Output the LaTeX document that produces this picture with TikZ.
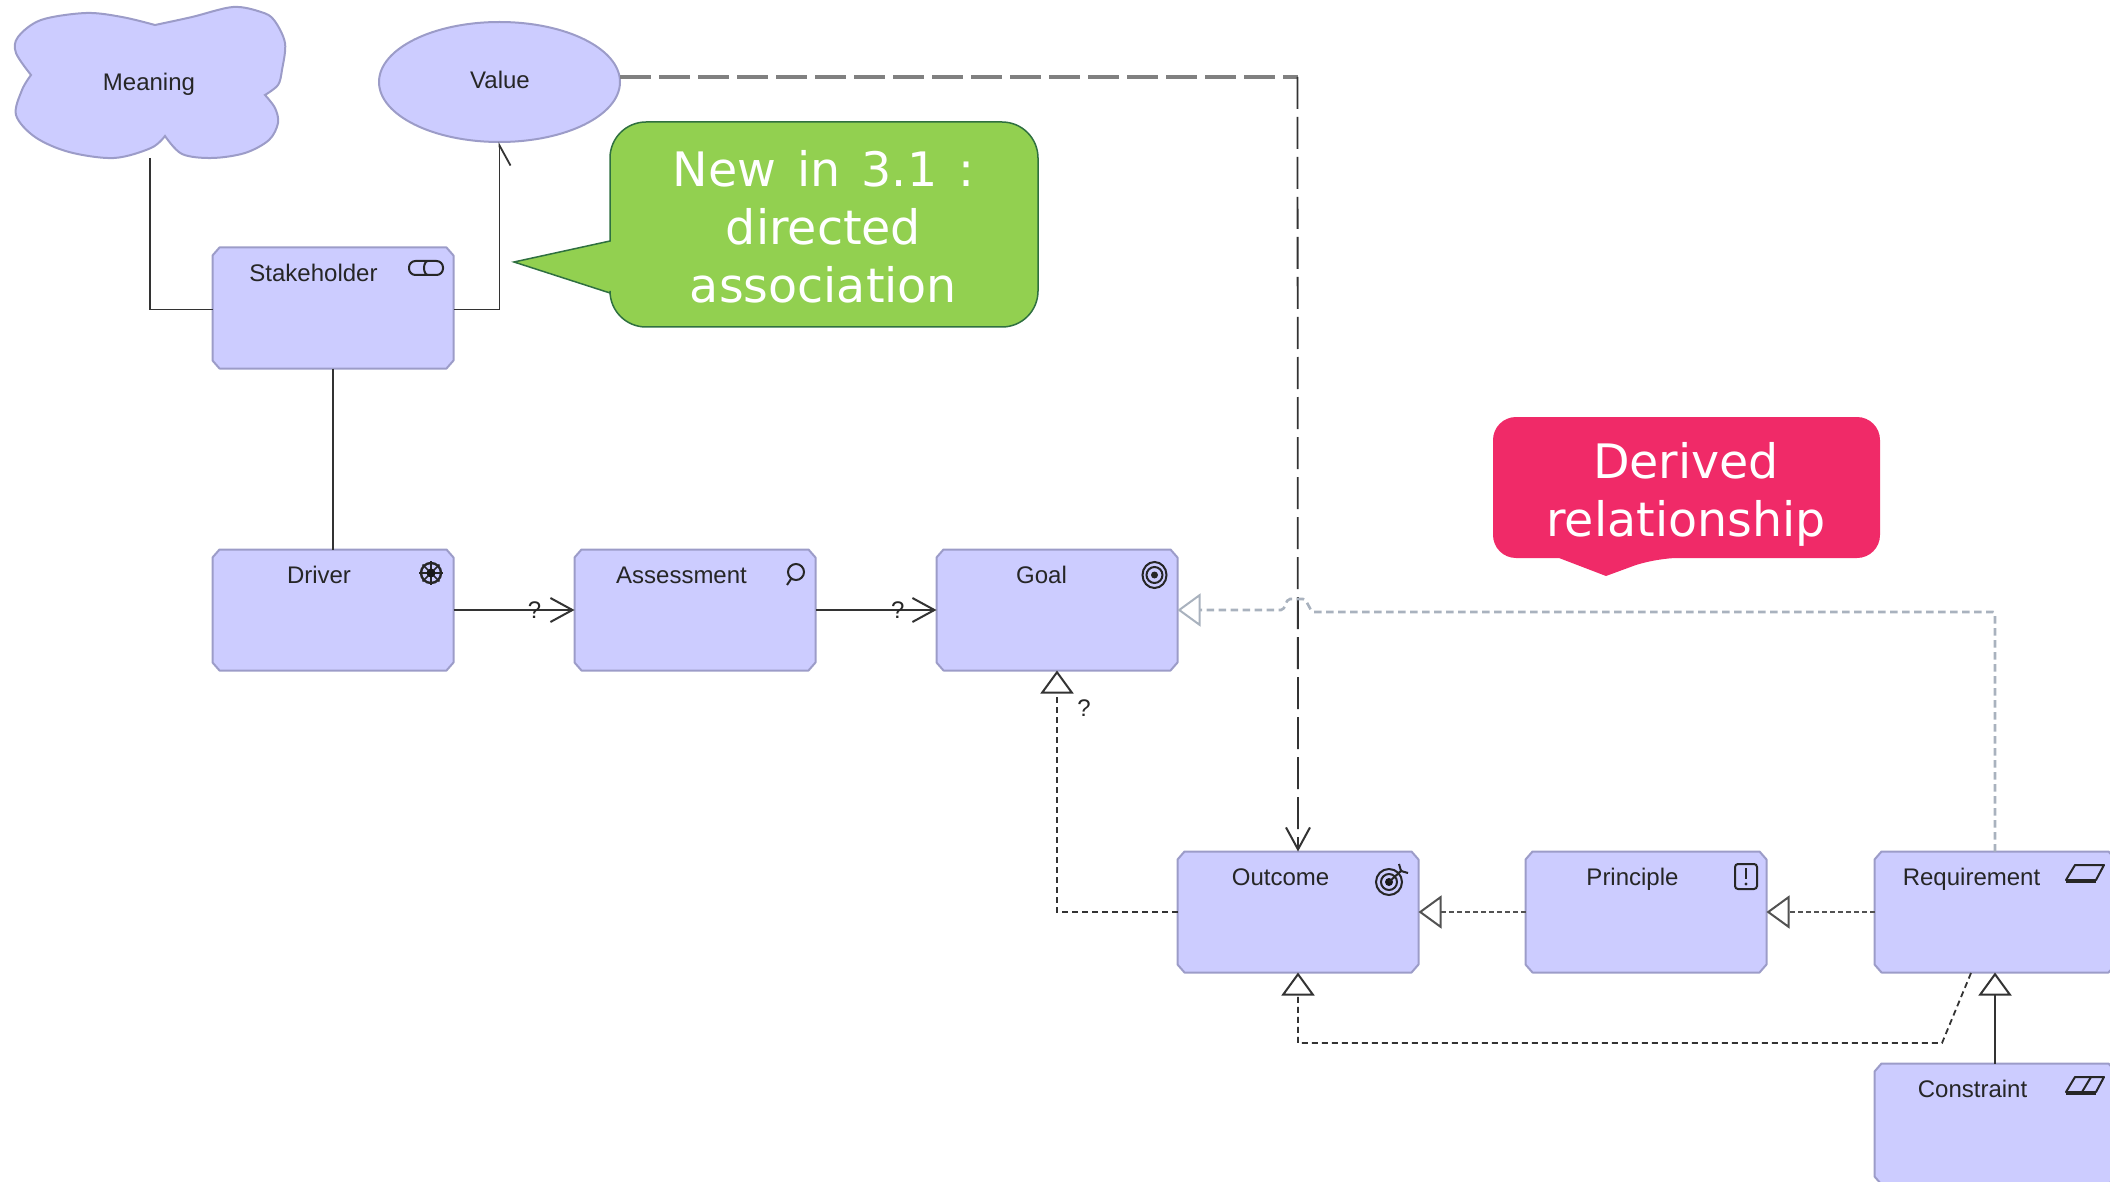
\documentclass[tikz,border=0pt]{standalone}
\usepackage{fontspec}
\setmainfont{Liberation Sans}
\newfontfamily\calloutfont[WordSpace=1.4]{DejaVu Sans}
\usetikzlibrary{positioning,arrows.meta,shapes.geometric}

\definecolor{elemfill}{HTML}{CCCCFF}
\definecolor{elemline}{HTML}{9C9CC8}
\definecolor{linkdark}{HTML}{333333}
\definecolor{linkgrey}{HTML}{808080}
\definecolor{linkpale}{HTML}{A9B2BE}
\definecolor{newgreen}{HTML}{92D050}
\definecolor{newline}{HTML}{2F7040}
\definecolor{derivedpink}{HTML}{F02A68}

\tikzset{
	elem/.style={rectangle, minimum width=241pt, minimum height=121pt, inner sep=0pt, outer sep=0pt,
		append after command={\pgfextra{\draw[draw=elemline, line width=2pt, fill=elemfill, line join=round]
			([xshift=7pt]\tikzlastnode.north west) -- ([xshift=-7pt]\tikzlastnode.north east) -- ([yshift=-8pt]\tikzlastnode.north east)
			-- ([yshift=8pt]\tikzlastnode.south east) -- ([xshift=-7pt]\tikzlastnode.south east) -- ([xshift=7pt]\tikzlastnode.south west)
			-- ([yshift=8pt]\tikzlastnode.south west) -- ([yshift=-8pt]\tikzlastnode.north west) -- cycle;}}},
	elemlabel/.style={anchor=base, text=black!85, font=\fontsize{24}{28}\selectfont, inner sep=0pt},
	assoc/.style={draw=linkdark, line width=1.8pt},
	flow/.style={assoc, line width=2.4pt, -{Straight Barb[length=22pt, width=24pt, line width=2pt]}},
	realize/.style={draw=linkdark, line width=1.8pt, dash pattern=on 6pt off 4pt, -{Triangle[open, fill=white, length=23pt, width=33pt, line width=2pt]}},
	realizeflat/.style={realize, draw=linkdark!85, line width=2.4pt, dash pattern=on 5pt off 3pt},
	callouttext/.style={align=center, text=white, font=\calloutfont\fontsize{47.5}{58}\selectfont, inner sep=0pt},
	icon/.style={draw=black!85, line width=2pt}
}

\begin{document}
\begin{tikzpicture}[x=1pt, y=-1pt]
	\clip (0,0) rectangle (2110,1182);
	
	\draw[elemline, fill=elemfill, line width=2pt] plot[smooth, tension=.55] coordinates {(155,25) (192,17) (233,7) (261,12) (274,20) (285,43) (282,70) (278,85) (265,95)}
		-- plot[smooth, tension=.55] coordinates {(265,95) (275,108) (278,123) (269,140) (245,153) (212,158) (182,154) (165,136)}
		-- plot[smooth, tension=.55] coordinates {(165,136) (151,148) (114,158) (69,152) (35,137) (16,115) (22,90) (31,75)}
		-- plot[smooth, tension=.55] coordinates {(31,75) (16,53) (18,37) (41,20) (86,13) (122,17) (155,25)} -- cycle;
	\node[elemlabel] (meaning) at (149,91) {Meaning};
	\coordinate (meaningend) at (150,158);
	
	\node[ellipse, draw=elemline, line width=2pt, fill=elemfill, minimum width=241pt, minimum height=120pt, inner sep=0pt, outer sep=0pt] (value) at (499.5,82) {};
	\node[elemlabel] (valuelabel) at (500,89) {Value};
	
	\node[elem] (stakeholder) at (333,308) {};
	\node[elem, below=181pt of stakeholder] (driver) {};
	\node[elem, right=121pt of driver] (assessment) {};
	\node[elem, right=121pt of assessment] (goal) {};
	\node[elem, below right=181pt and 0pt of goal] (outcome) {};
	\node[elem, right=107pt of outcome] (principle) {};
	\node[elem, right=108pt of principle] (requirement) {};
	\node[elem, below=91pt of requirement] (constraint) {};
	
	\node[elemlabel] (stakeholderlabel) at ([xshift=-19.5pt, yshift=-34pt]stakeholder.north) {Stakeholder};
	\node[elemlabel] (driverlabel) at ([xshift=-14pt, yshift=-34pt]driver.north) {Driver};
	\node[elemlabel] (assessmentlabel) at ([xshift=-13.5pt, yshift=-34pt]assessment.north) {Assessment};
	\node[elemlabel] (goallabel) at ([xshift=-15.5pt, yshift=-34pt]goal.north) {Goal};
	\node[elemlabel] (outcomelabel) at ([xshift=-17.5pt, yshift=-34pt]outcome.north) {Outcome};
	\node[elemlabel] (principlelabel) at ([xshift=-13.5pt, yshift=-34pt]principle.north) {Principle};
	\node[elemlabel] (requirementlabel) at ([xshift=-23.5pt, yshift=-34pt]requirement.north) {Requirement};
	\node[elemlabel] (constraintlabel) at ([xshift=-22.5pt, yshift=-34pt]constraint.north) {Constraint};
	
	\draw[assoc] (meaningend) |- ([yshift=-1.5pt]stakeholder.west);
	\draw[assoc, -{Straight Barb[harpoon, swap, length=20pt, width=22pt]}] ([yshift=-1.5pt]stakeholder.east) -| (value.south);
	\draw[assoc] (stakeholder.south) -- (driver.north);
	\draw[flow] (driver.east) -- node[pos=.67, elemlabel, anchor=center] (driverq) {?} (assessment.west);
	\draw[flow] (assessment.east) -- node[pos=.68, elemlabel, anchor=center] (assessmentq) {?} (goal.west);
	\draw[realize] (outcome.west) -| (goal.south);
	\node[elemlabel] (goalq) at (1084,716) {?};
	
	\coordinate (valueend) at (620,77);
	\coordinate (valuebend) at (1297.5,77);
	\draw[draw=linkgrey, line width=3.6pt, dash pattern=on 31pt off 8pt] (valueend) -- (valuebend);
	\draw[assoc, dash pattern=on 32pt off 8pt, -{Straight Barb[length=22pt, width=24pt, line width=2pt]}] (valuebend) -- (outcome.north);
	
	\coordinate (jumpa) at (1312,612);
	\coordinate (jumpb) at (1305,599);
	\coordinate (jumpc) at (1288,599);
	\coordinate (jumpd) at (1283,610);
	\draw[realize, draw=linkpale, line width=2.6pt, dash pattern=on 7.5pt off 4.5pt, rounded corners=2pt] (requirement.north) |- (jumpa) -- (jumpb) -- (jumpc) -- (jumpd) -- (goal.east);
	
	\draw[realizeflat] (requirement.west) -- (principle.east);
	\draw[realizeflat] (principle.west) -- (outcome.east);
	\coordinate (derivedstart) at (1971,973);
	\coordinate (derivedbend) at (1942,1043);
	\draw[realize] (derivedstart) -- (derivedbend) -| (outcome.south);
	\draw[realize, line width=2.4pt, dash pattern=] (constraint.north) -- (requirement.south);
	
	\draw[icon, rounded corners=6.5pt] (409,261) rectangle (443,275);
	\draw[icon] (428,261) arc[start angle=90, end angle=270, x radius=4pt, y radius=7pt];
	
	\draw[icon, line width=2.4pt] (431,573) circle[radius=10pt];
	\foreach \a in {0,45,...,315}
		\draw[icon, line width=1.6pt] (431,573) -- ++(\a:12pt);
	\fill[black!90] (431,573) circle[radius=4.5pt];
	
	\draw[icon] (796,572) circle[radius=8pt];
	\draw[icon] (791,579) -- (787,585);
	
	\draw[icon] (1154.5,575) circle[x radius=12pt, y radius=13pt];
	\draw[icon] (1154.5,575) circle[radius=8pt];
	\fill[black!85] (1154.5,575) circle[radius=3.5pt];
	
	\draw[icon] (1389,882) circle[radius=13pt];
	\draw[icon] (1389,882) circle[radius=8pt];
	\fill[black!90] (1389,882) circle[radius=4pt];
	\draw[icon] (1389,882) -- (1402,870);
	\draw[icon] (1399,864) -- (1401,871) -- (1408,873);
	
	\draw[icon, rounded corners=3pt] (1735,864) rectangle (1757,889);
	\draw[icon, line width=2.4pt] (1746,868) -- (1746,879);
	\fill[black!85] (1746,884) circle[radius=1.6pt];
	
	\draw[icon, line join=round] (2066,880) -- (2075,865) -- (2104,865) -- (2096,880) -- cycle;
	\draw[icon] (2066,882) -- (2096,882);
	\draw[icon, line join=round] (2066,1092) -- (2075,1077) -- (2104,1077) -- (2096,1092) -- cycle;
	\draw[icon] (2066,1094) -- (2096,1094);
	\draw[icon] (2082,1092) -- (2091,1077);
	
	\draw[draw=newline, line width=1.5pt, fill=newgreen] (610,241) [rounded corners=36pt] -- (610,122) -- (1038,122) -- (1038,327) -- (610,327) [sharp corners] -- (610,293) -- (514,262) -- cycle;
	\node[callouttext] (newnote) at (823.5,226.5) {New in 3.1 :\\directed\\association};
	
	\path[fill=derivedpink] (1493,490) [rounded corners=23pt] -- (1493,417) -- (1880,417) -- (1880,558) -- (1655,558) [sharp corners] -- (1606,576) -- (1559,558) [rounded corners=23pt] -- (1493,558) -- cycle;
	\node[callouttext] (derivednote) at (1686,494) {Derived\\relationship};
\end{tikzpicture}
\end{document}
